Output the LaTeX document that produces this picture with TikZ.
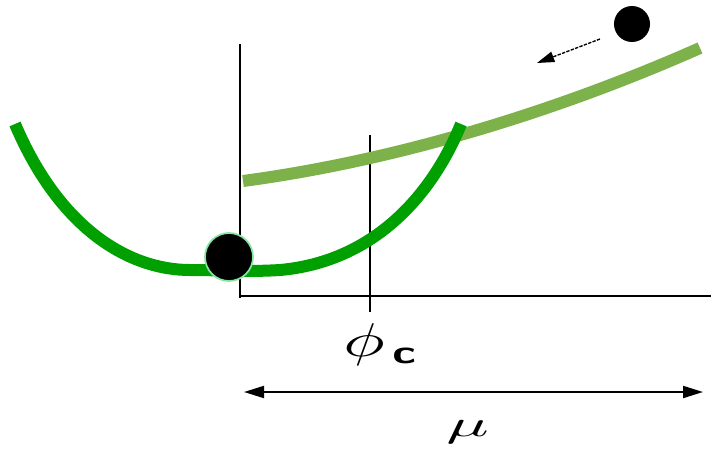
\documentclass[tikz,border=0pt]{standalone}
\usepackage{graphicx}
\usetikzlibrary{arrows.meta}
\definecolor{dgreen}{RGB}{0,160,0}
\definecolor{lgreen}{RGB}{125,178,74}
\definecolor{rim}{RGB}{130,230,160}
\begin{document}
\begin{tikzpicture}[x=0.75pt,y=-0.75pt,
  axis/.style={line width=1.5pt,black},
  ball/.style={circle,fill=black,inner sep=0pt},
  lbl/.style={inner sep=0pt,anchor=base west}]
\useasboundingbox (0,0) rectangle (714,453);
% axes
\coordinate (ytop) at (240,44);
\coordinate (ybot) at (240,298);
\coordinate (xstart) at (239,296);
\coordinate (xend) at (711,296);
\draw[axis] (ytop) -- (ybot) (xstart) -- (xend);
\coordinate (ct) at (370,135);
\coordinate (cb) at (370,312);
\draw[axis] (ct) -- (cb);
% light green path
\coordinate (g1) at (243,181);
\coordinate (g2) at (700,48);
\draw[lgreen,line width=9pt] (g1) .. controls (400,160) and (560,110) .. (g2);
% dark green well
\coordinate (w1) at (15,124);
\coordinate (wl) at (190,270);
\coordinate (wr) at (280,270);
\coordinate (w2) at (461,124);
\draw[dgreen,line width=9pt] (w1) .. controls (60,230) and (130,270) .. (wl)
  .. controls (220,270) and (250,272) .. (wr)
  .. controls (370,262) and (430,200) .. (w2);
% balls
\node[ball,draw=rim,line width=1.3pt,minimum size=36pt] (b1) at (229,257) {};
\node[ball,minimum size=27pt] (b2) at (632,24) {};
% arrow
\coordinate (a1) at (600,39);
\coordinate (a2) at (537,63);
\draw[line width=1pt,dash pattern=on 2.5pt off 1pt,-{Triangle[length=13pt,width=8pt]}] (a1) -- (a2);
% labels
\node[lbl] (phi) at (343,356) {\scalebox{5.2}[3.55]{$\phi$}};
\node[lbl] (csub) at (392,363) {\scalebox{3.6}[2.45]{\sffamily\bfseries c}};
\coordinate (l) at (244,392);
\coordinate (r) at (703,392);
\draw[line width=1.5pt,{Triangle[length=15pt,width=9pt]}-{Triangle[length=15pt,width=9pt]}] (l) -- (r);
\node[lbl] (mu) at (446,436) {\scalebox{5.3}[2.76]{$\mu$}};
\end{tikzpicture}
\end{document}
